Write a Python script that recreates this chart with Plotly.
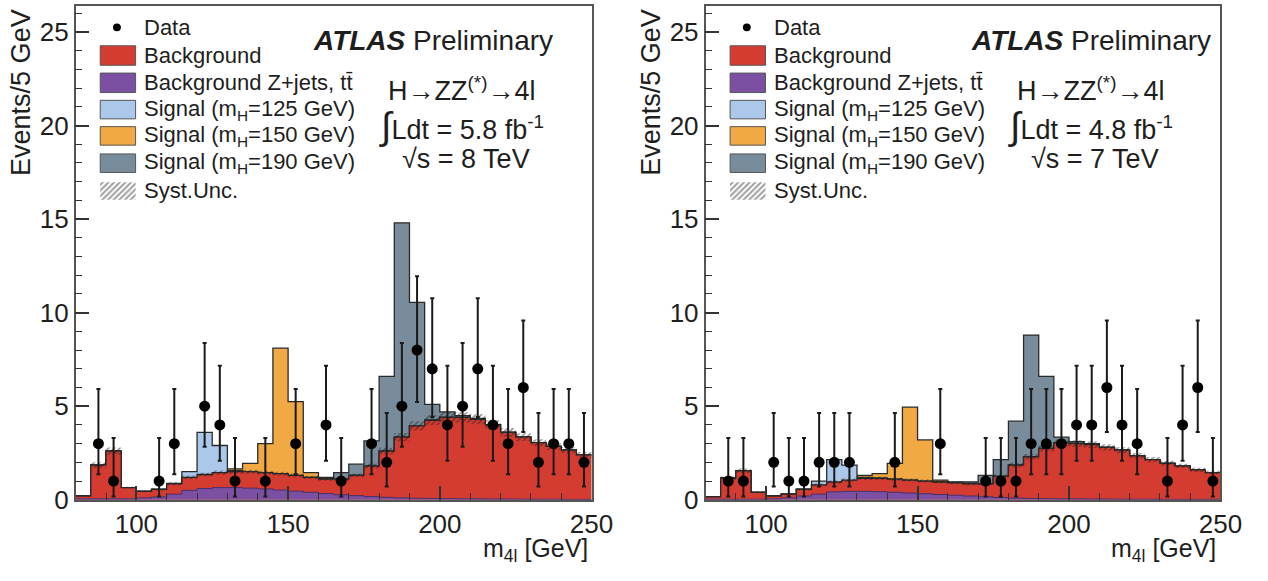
import plotly.graph_objects as go

W, H = 1268, 581

# ---------------- data ----------------
bin_low = list(range(80, 250, 5))          # 34 bins of 5 GeV
edges = bin_low + [250]

# sqrt(s) = 8 TeV (left)
bkg_8 = [0.2, 1.85, 2.6, 0.65, 0.45, 0.55, 0.85, 1.2, 1.35, 1.45, 1.5, 1.5, 1.45, 1.4, 1.3, 1.2, 1.1,
         1.1, 1.3, 1.8, 2.6, 3.35, 3.95, 4.25, 4.4, 4.4, 4.3, 4.0, 3.6, 3.35, 3.05, 2.85, 2.65, 2.4]
zjets_8 = [0.05, 0.05, 0.05, 0.05, 0.1, 0.15, 0.3, 0.5, 0.6, 0.65, 0.65, 0.62, 0.58, 0.52, 0.46, 0.4, 0.33,
           0.27, 0.22, 0.17, 0.13, 0.1, 0.08, 0.07, 0.06, 0.05, 0.05, 0.04, 0.04, 0.03, 0.03, 0.03, 0.02, 0.02]
sig125_8 = [0, 0, 0, 0, 0, 0, 0.03, 0.3, 2.25, 1.45, 0.05, 0, 0, 0, 0, 0, 0,
            0, 0, 0, 0, 0, 0, 0, 0, 0, 0, 0, 0, 0, 0, 0, 0, 0]
sig150_8 = [0, 0, 0, 0, 0, 0, 0, 0, 0, 0.05, 0.15, 0.45, 1.55, 6.7, 3.95, 0.25, 0.05,
            0, 0, 0, 0, 0, 0, 0, 0, 0, 0, 0, 0, 0, 0, 0, 0, 0]
sig190_8 = [0, 0, 0, 0, 0, 0, 0, 0, 0, 0, 0, 0, 0, 0, 0, 0.05, 0.1,
            0.35, 0.6, 1.35, 4.0, 11.45, 6.6, 0.85, 0.3, 0.1, 0.05, 0, 0, 0, 0, 0, 0, 0]
syst_8 = [0.02, 0.15, 0.2, 0.05, 0.04, 0.05, 0.08, 0.1, 0.1, 0.11, 0.11, 0.11, 0.1, 0.1, 0.1, 0.09, 0.08,
          0.08, 0.1, 0.13, 0.18, 0.22, 0.25, 0.27, 0.28, 0.28, 0.27, 0.25, 0.23, 0.21, 0.19, 0.18, 0.17, 0.15]
data_x_8 = [87.5, 92.5, 107.5, 112.5, 122.5, 127.5, 132.5, 142.5, 152.5, 162.5, 167.5, 177.5, 182.5,
            187.5, 192.5, 197.5, 202.5, 207.5, 212.5, 217.5, 222.5, 227.5, 232.5, 237.5, 242.5, 247.5]
data_n_8 = [3, 1, 1, 3, 5, 4, 1, 1, 3, 4, 1, 3, 2, 5, 8, 7, 4, 5, 7, 4, 3, 6, 2, 3, 3, 2]

# sqrt(s) = 7 TeV (right)
bkg_7 = [0.15, 1.15, 1.55, 0.4, 0.2, 0.3, 0.55, 0.8, 0.95, 1.05, 1.15, 1.15, 1.1, 1.05, 1.0, 0.95, 0.9,
         0.85, 0.85, 1.25, 1.85, 2.3, 2.75, 3.05, 3.0, 2.95, 2.8, 2.65, 2.35, 2.15, 1.95, 1.8, 1.6, 1.45]
zjets_7 = [0.03, 0.03, 0.03, 0.03, 0.05, 0.1, 0.2, 0.3, 0.42, 0.45, 0.45, 0.43, 0.4, 0.36, 0.32, 0.28, 0.24,
           0.2, 0.16, 0.12, 0.09, 0.07, 0.06, 0.05, 0.05, 0.04, 0.04, 0.03, 0.03, 0.03, 0.02, 0.02, 0.02, 0.02]
sig125_7 = [0, 0, 0, 0, 0, 0, 0.02, 0.2, 1.2, 0.8, 0.05, 0, 0, 0, 0, 0, 0,
            0, 0, 0, 0, 0, 0, 0, 0, 0, 0, 0, 0, 0, 0, 0, 0, 0]
sig150_7 = [0, 0, 0, 0, 0, 0, 0, 0, 0, 0.03, 0.15, 0.25, 0.85, 3.9, 2.2, 0.1, 0.03,
            0, 0, 0, 0, 0, 0, 0, 0, 0, 0, 0, 0, 0, 0, 0, 0, 0]
sig190_7 = [0, 0, 0, 0, 0, 0, 0, 0, 0, 0, 0, 0, 0, 0, 0, 0.03, 0.05,
            0.1, 0.45, 0.9, 2.35, 6.5, 3.85, 0.3, 0.1, 0.05, 0, 0, 0, 0, 0, 0, 0, 0]
syst_7 = [0.02, 0.1, 0.12, 0.04, 0.03, 0.03, 0.05, 0.07, 0.08, 0.08, 0.09, 0.09, 0.08, 0.08, 0.08, 0.07, 0.07,
          0.07, 0.07, 0.1, 0.13, 0.15, 0.17, 0.18, 0.18, 0.18, 0.17, 0.16, 0.15, 0.14, 0.13, 0.12, 0.11, 0.1]
data_x_7 = [87.5, 92.5, 102.5, 107.5, 112.5, 117.5, 122.5, 127.5, 142.5, 157.5, 172.5, 177.5, 182.5,
            187.5, 192.5, 197.5, 202.5, 207.5, 212.5, 217.5, 222.5, 232.5, 237.5, 242.5, 247.5]
data_n_7 = [1, 1, 2, 1, 1, 2, 2, 2, 2, 3, 1, 1, 1, 3, 3, 3, 4, 4, 6, 4, 3, 1, 4, 6, 1]

# 68% Poisson (Garwood) intervals per observed count
poisson_lo = {1: 0.17, 2: 0.71, 3: 1.37, 4: 2.09, 5: 2.84, 6: 3.62, 7: 4.42, 8: 5.23}
poisson_hi = {1: 3.30, 2: 4.64, 3: 5.92, 4: 7.16, 5: 8.38, 6: 9.58, 7: 10.77, 8: 11.95}

# ---------------- style ----------------
FONT = "Liberation Sans, Arial, Helvetica, sans-serif"
RED = "#d53c31"
PURPLE = "#7b4fa2"
LBLUE = "#abc7ea"
ORANGE = "#f1a944"
GRAY = "#798c9b"
EDGE = "#2a2a2a"
TXT = "#1e1e1e"

# panel geometry in pixels
PANELS = [
    dict(x0=77, x1=602),
    dict(x0=718, x1=1242),
]
Y_TOP, Y_BOT = 6, 513
YMAX = 26.4

HATCH = dict(shape="/", fgcolor="rgba(25,25,25,0.9)", bgcolor="rgba(0,0,0,0)", size=4, solidity=0.45)


def step(v):
    return list(v) + [v[-1]]


def add(a, b):
    return [p + q for p, q in zip(a, b)]


fig = go.Figure()


def add_panel(i, bkg, zj, s125, s150, s190, syst, dx, dn):
    xa = "x" if i == 0 else "x2"
    ya = "y" if i == 0 else "y2"
    common = dict(xaxis=xa, yaxis=ya, showlegend=False, hoverinfo="skip")
    for sig, col in [(s190, GRAY), (s150, ORANGE), (s125, LBLUE)]:
        fig.add_trace(go.Scatter(x=edges, y=step(add(bkg, sig)), mode="lines",
                                 line=dict(shape="hv", color=EDGE, width=1.3),
                                 fill="tozeroy", fillcolor=col, **common))
    fig.add_trace(go.Scatter(x=edges, y=step(bkg), mode="lines",
                             line=dict(shape="hv", color=EDGE, width=1.3),
                             fill="tozeroy", fillcolor=RED, **common))
    fig.add_trace(go.Scatter(x=edges, y=step(zj), mode="lines",
                             line=dict(shape="hv", color="#4a2f6a", width=1),
                             fill="tozeroy", fillcolor=PURPLE, **common))
    lo = [b - s for b, s in zip(bkg, syst)]
    hi = [b + s for b, s in zip(bkg, syst)]
    fig.add_trace(go.Scatter(x=edges, y=step(lo), mode="lines",
                             line=dict(shape="hv", width=0, color="rgba(0,0,0,0)"), **common))
    fig.add_trace(go.Scatter(x=edges, y=step(hi), mode="lines",
                             line=dict(shape="hv", width=0, color="rgba(0,0,0,0)"),
                             fill="tonexty", fillcolor="rgba(0,0,0,0)",
                             fillpattern=HATCH, **common))
    fig.add_trace(go.Scatter(x=dx, y=dn, mode="markers",
                             marker=dict(color="black", size=11),
                             error_y=dict(type="data", symmetric=False,
                                          array=[poisson_hi[n] - n for n in dn],
                                          arrayminus=[n - poisson_lo[n] for n in dn],
                                          color="#1a1a1a", thickness=2, width=2),
                             **common))
    # hatched legend swatch (Syst.Unc.) in data coordinates
    p = PANELS[i]

    def dxv(px_):
        return 80 + (px_ - p["x0"]) * 170.0 / (p["x1"] - p["x0"])

    def dyv(py_):
        return (Y_BOT - py_) * YMAX / (Y_BOT - Y_TOP)

    bx0, bx1 = p["x0"] + 25, p["x0"] + 61
    by0, by1 = 187, 205
    fig.add_trace(go.Scatter(x=[dxv(bx0), dxv(bx1), dxv(bx1), dxv(bx0), dxv(bx0)],
                             y=[dyv(by0), dyv(by0), dyv(by1), dyv(by1), dyv(by0)],
                             mode="lines", line=dict(width=0, color="rgba(0,0,0,0)"),
                             fill="toself", fillcolor="rgba(255,255,255,0)",
                             fillpattern=dict(shape="/", fgcolor="rgba(50,50,50,0.95)",
                                              bgcolor="rgba(255,255,255,0)", size=4, solidity=0.5),
                             **common))


add_panel(0, bkg_8, zjets_8, sig125_8, sig150_8, sig190_8, syst_8, data_x_8, data_n_8)
add_panel(1, bkg_7, zjets_7, sig125_7, sig150_7, sig190_7, syst_7, data_x_7, data_n_7)

ydom = [1 - Y_BOT / H, 1 - Y_TOP / H]


def xaxis(p):
    return dict(domain=[p["x0"] / W, p["x1"] / W], range=[80, 250], tickmode="linear", tick0=0, dtick=50,
                ticks="inside", ticklen=14, tickwidth=1.5, tickcolor="#333",
                minor=dict(dtick=10, tick0=0, ticks="inside", ticklen=7, tickwidth=1.2, tickcolor="#333"),
                showline=True, linecolor="#555", linewidth=1.5, mirror=True,
                showgrid=False, zeroline=False, tickfont=dict(size=26, color=TXT, family=FONT))


def yaxis(anchor):
    return dict(domain=ydom, range=[0, YMAX], tickmode="linear", tick0=0, dtick=5, anchor=anchor,
                ticks="inside", ticklen=14, tickwidth=1.5, tickcolor="#333",
                minor=dict(dtick=1, tick0=0, ticks="inside", ticklen=7, tickwidth=1.2, tickcolor="#333"),
                showline=True, linecolor="#555", linewidth=1.5, mirror=True,
                showgrid=False, zeroline=False, tickfont=dict(size=26, color=TXT, family=FONT))


shapes = []
annotations = []


def px(x):
    return x / W


def py(y):
    return 1 - y / H


def ann(text, x, y, size, xanchor="center", yanchor="middle", angle=0):
    annotations.append(dict(text=text, x=px(x), y=py(y), xref="paper", yref="paper",
                            xanchor=xanchor, yanchor=yanchor, showarrow=False, textangle=angle,
                            font=dict(size=size, color=TXT, family=FONT)))


legend_rows = [
    ("Background", RED, 47, 67),
    ("Background Z+jets, tt\u0304", PURPLE, 75, 95),
    ("Signal (m<sub>H</sub>=125 GeV)", LBLUE, 103, 122),
    ("Signal (m<sub>H</sub>=150 GeV)", ORANGE, 130, 149),
    ("Signal (m<sub>H</sub>=190 GeV)", GRAY, 158, 177),
]

texts = [
    dict(lumi="5.8", rs="8", atlas=441, c=470),
    dict(lumi="4.8", rs="7", atlas=1110, c=1110),
]

for i, p in enumerate(PANELS):
    x0 = p["x0"]
    # data marker in legend
    shapes.append(dict(type="circle", xref="paper", yref="paper",
                       x0=px(x0 + 38), x1=px(x0 + 46), y0=py(32), y1=py(24),
                       fillcolor="black", line=dict(width=0)))
    ann("Data", x0 + 68, 28, 22, xanchor="left")
    for label, col, y0, y1 in legend_rows:
        shapes.append(dict(type="rect", xref="paper", yref="paper",
                           x0=px(x0 + 25), x1=px(x0 + 61), y0=py(y1), y1=py(y0),
                           fillcolor=col, line=dict(width=1, color="#555")))
        ann(label, x0 + 68, (y0 + y1) / 2, 22, xanchor="left")
    ann("Syst.Unc.", x0 + 68, 196, 22, xanchor="left")

    t = texts[i]
    ann("<b><i>ATLAS</i></b> Preliminary", t["atlas"], 42, 28)
    ann("H\u2192ZZ<sup>(*)</sup>\u21924l", t["c"], 91, 27)
    ann("<span style='font-size:38px'>\u222b</span>Ldt = " + t["lumi"] + " fb<sup>-1</sup>", t["c"], 130, 27)
    ann("\u221as = " + t["rs"] + " TeV", t["c"] + 4, 163, 27)

    # axis titles
    ann("Events/5 GeV", x0 - 55, 7, 27, xanchor="center", yanchor="top", angle=-90)
    ann("m<sub>4l</sub> [GeV]", p["x1"] - 2, 583, 25, xanchor="right", yanchor="bottom")

fig.update_layout(
    width=W, height=H, margin=dict(l=0, r=0, t=0, b=0),
    paper_bgcolor="white", plot_bgcolor="white",
    xaxis=xaxis(PANELS[0]) | dict(anchor="y"),
    yaxis=yaxis("x"),
    xaxis2=xaxis(PANELS[1]) | dict(anchor="y2"),
    yaxis2=yaxis("x2"),
    shapes=shapes, annotations=annotations,
    font=dict(family=FONT, color=TXT),
)

fig.write_html("out.html")
